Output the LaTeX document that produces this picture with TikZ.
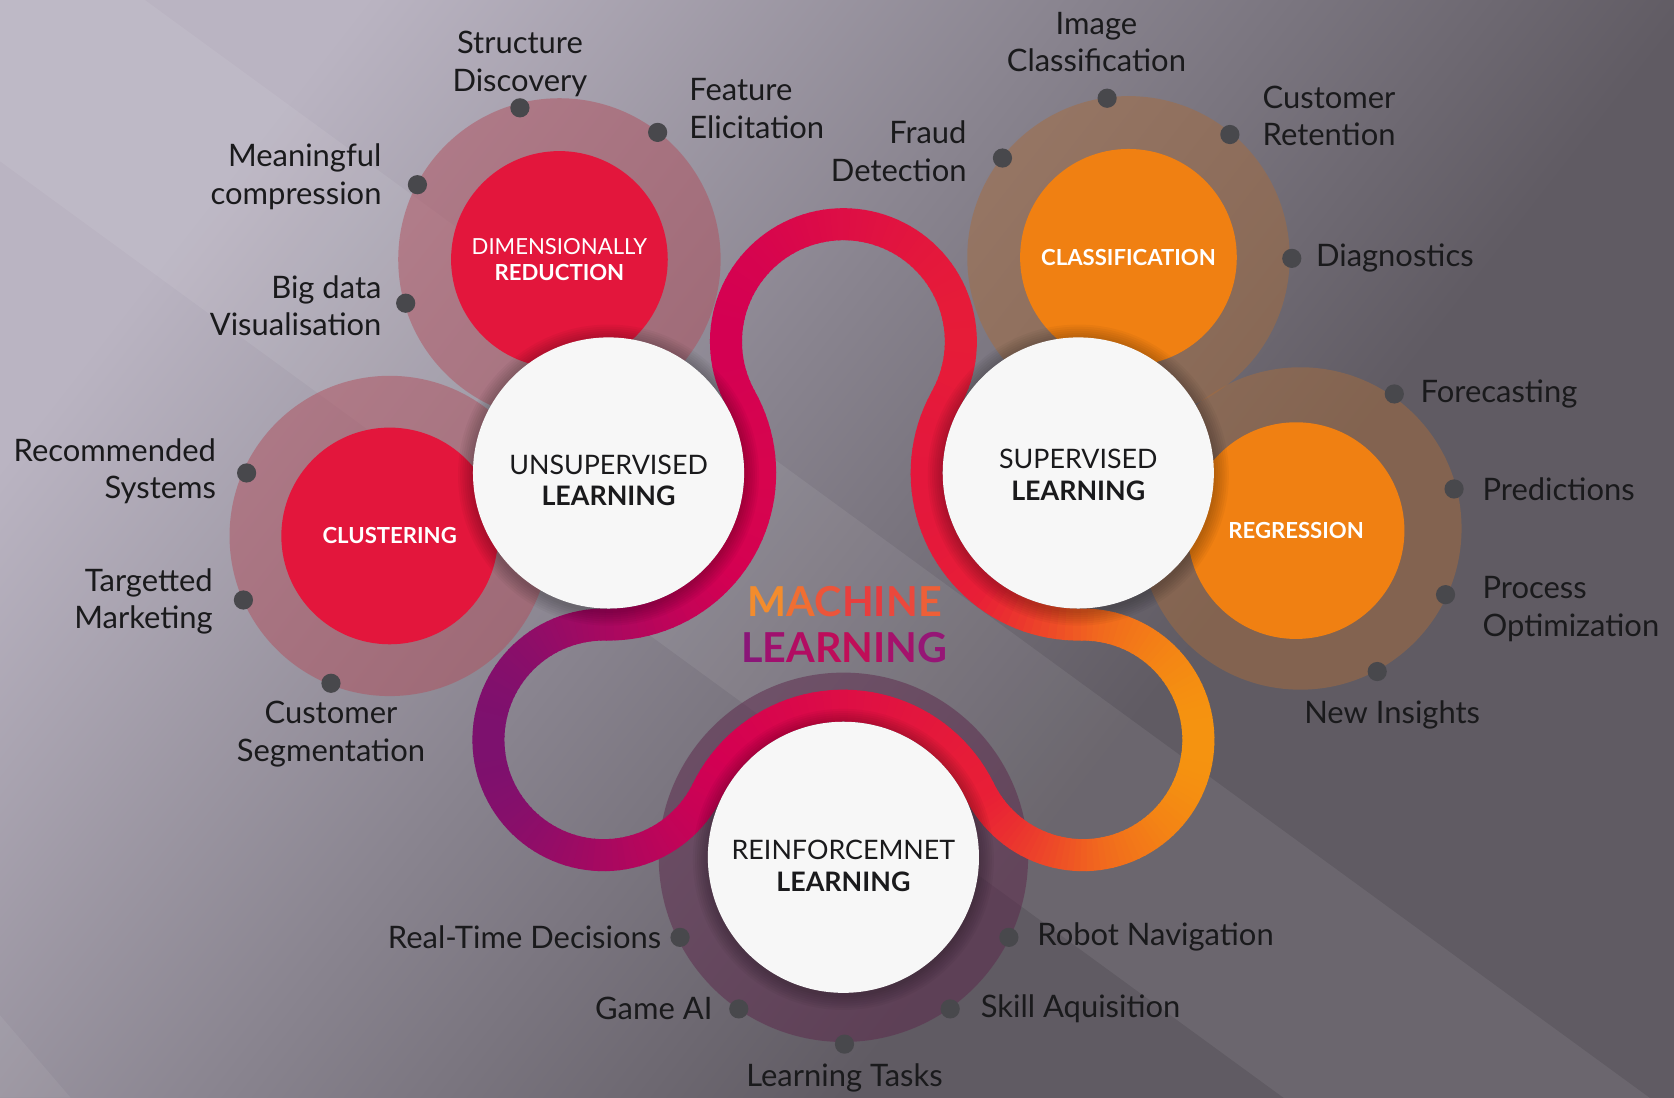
\documentclass[tikz,border=0pt]{standalone}
\usepackage{fontspec}
\setmainfont{Lato}
\usepackage{tikz}
\usetikzlibrary{positioning}

\definecolor{bglight}{RGB}{186,180,194}
\definecolor{bgmid}{RGB}{136,131,142}
\definecolor{bgdark}{RGB}{96,91,99}
\definecolor{mlred}{RGB}{227,22,60}
\definecolor{mlorange}{RGB}{240,128,18}
\definecolor{corewhite}{RGB}{247,247,247}
\definecolor{dotgray}{RGB}{72,72,76}
\definecolor{redhalo}{RGB}{176,78,92}
\definecolor{orangehalo}{RGB}{166,108,62}
\definecolor{purplehalo}{RGB}{92,38,74}
\definecolor{txt}{RGB}{26,26,28}
\definecolor{rb1}{RGB}{118,18,112}
\definecolor{rb3}{RGB}{212,0,82}
\definecolor{rb5}{RGB}{232,30,54}
\definecolor{rb7}{RGB}{241,104,30}
\definecolor{rb8}{RGB}{246,158,12}

\pgfdeclarehorizontalshading{backshade}{100bp}{color(0bp)=(bglight); color(25bp)=(bglight); color(45bp)=(bgmid); color(62bp)=(bgdark); color(100bp)=(bgdark)}

% colour of the band at horizontal position #1
\newcommand{\ribboncolor}[1]{%
  \ifdim#1pt<680pt
    \pgfmathsetmacro{\mixp}{max(0,(#1-440)/2.4)}\colorlet{segc}{rb3!\mixp!rb1}%
  \else\ifdim#1pt<920pt
    \pgfmathsetmacro{\mixp}{(#1-680)/2.4}\colorlet{segc}{rb5!\mixp!rb3}%
  \else\ifdim#1pt<1030pt
    \pgfmathsetmacro{\mixp}{(#1-920)/1.1}\colorlet{segc}{rb7!\mixp!rb5}%
  \else
    \pgfmathsetmacro{\mixp}{min(100,(#1-1030)/1.15)}\colorlet{segc}{rb8!\mixp!rb7}%
  \fi\fi\fi}

% one arc of the band: centre x, centre y, radius, start, end
\newcommand{\ribbonarc}[5]{%
  \pgfmathtruncatemacro{\nseg}{ceil(abs(#5-#4)/3)}%
  \pgfmathsetmacro{\dstep}{(#5-#4)/\nseg}%
  \foreach \i in {1,...,\nseg}{%
    \pgfmathsetmacro{\segA}{#4+(\i-1)*\dstep}%
    \pgfmathsetmacro{\segB}{#4+\i*\dstep+0.6*sign(\dstep)}%
    \pgfmathsetmacro{\xm}{#1+#3*cos(#4+(\i-0.5)*\dstep)}%
    \ribboncolor{\xm}%
    \draw[segc,line width=0.6cm] (#1,#2) ++(\segA:#3) arc[start angle=\segA,end angle=\segB,radius=#3];%
  }%
}

\begin{document}
\begin{tikzpicture}[x=0.02cm,y=-0.02cm,
  halo/.style={opacity=0.5},
  topic node/.style={circle,minimum size=4.06cm,inner sep=0,align=center,text=white,font=\fontsize{11.8}{13.7}\selectfont},
  core node/.style={circle,fill=corewhite,minimum size=5.08cm,inner sep=0},
  core text/.style={align=center,inner sep=0,text=txt,font=\fontsize{14.3}{17}\selectfont},
  dot node/.style={circle,fill=dotgray,minimum size=0.36cm,inner sep=0},
  item node/.style={inner sep=0,text=txt,font=\fontsize{16.5}{20}\selectfont}]
\useasboundingbox (0,0) rectangle (1568,1028);

% background
\begin{scope}
\clip (0,0) rectangle (1568,1028);
\shade[shading=backshade,shading angle=-38] (0,0) rectangle (1568,1028);
\fill[white,opacity=0.07] (0,-99) -- (1568,1045) -- (1568,1295) -- (0,151) -- cycle;
\fill[white,opacity=0.06] (0,951) -- (66,1028) -- (0,1028) -- cycle;
\end{scope}

% halos
\fill[redhalo,halo] (524,243) circle[radius=151];
\fill[redhalo,halo] (365,502) circle[radius=150];
\fill[orangehalo,halo] (1057,241) circle[radius=151];
\fill[orangehalo,halo] (1218,495) circle[radius=151];
\fill[purplehalo,halo] (790,803) circle[radius=173];

% band round the learning circles
\ribbonarc{790}{320}{110}{150.8}{389.2}
\ribbonarc{1010}{443}{142}{209.2}{89.0}
\ribbonarc{1014.5}{693}{108}{269.0}{513.9}
\ribbonarc{790}{803}{142}{-26.1}{-153.9}
\ribbonarc{565.5}{693}{108}{26.1}{271.0}
\ribbonarc{570}{443}{142}{91.0}{-29.2}

% topic circles
\node[topic node,fill=mlred] (dimred) at (524,243) {DIMENSIONALLY\\\textbf{REDUCTION}};
\node[topic node,fill=mlred] (clust) at (365,502) {\textbf{CLUSTERING}};
\node[topic node,fill=mlorange] (classif) at (1057,241) {\textbf{CLASSIFICATION}};
\node[topic node,fill=mlorange] (regr) at (1214,497) {\textbf{REGRESSION}};

% learning circles
\coordinate (uc) at (570,443);
\coordinate (sc) at (1010,443);
\coordinate (rc) at (790,803);
\foreach \p in {uc,sc,rc}
  \foreach \k in {1,...,7}
    \fill[black,opacity=0.035] ([yshift=-0.04cm]\p) circle[radius=127+2*\k];
\node[core node] (unsup) at (uc) {};
\node[core node] (sup) at (sc) {};
\node[core node] (reinf) at (rc) {};
\node[core text] (unsup-t) at ([yshift=-0.14cm]unsup.center) {UNSUPERVISED\\\textbf{LEARNING}};
\node[core text] (sup-t) at ([yshift=-0.04cm]sup.center) {SUPERVISED\\\textbf{LEARNING}};
\node[core text] (reinf-t) at ([yshift=-0.16cm]reinf.center) {REINFORCEMNET\\\textbf{LEARNING}};

\node[align=center,inner sep=0,font=\fontsize{22}{25}\selectfont\bfseries] (ml) at (791,585)
  {\textcolor[RGB]{243,140,45}{M}\textcolor[RGB]{240,110,50}{A}\textcolor[RGB]{236,85,58}{C}\textcolor[RGB]{232,62,62}{H}\textcolor[RGB]{232,58,62}{I}\textcolor[RGB]{235,72,60}{N}\textcolor[RGB]{238,95,55}{E}\\
   \textcolor[RGB]{138,22,120}{L}\textcolor[RGB]{160,16,110}{E}\textcolor[RGB]{178,12,98}{A}\textcolor[RGB]{190,12,90}{R}\textcolor[RGB]{192,14,88}{N}\textcolor[RGB]{182,14,96}{I}\textcolor[RGB]{165,18,108}{N}\textcolor[RGB]{150,22,118}{G}};

% dimensionality reduction
\node[dot node] (sd) at (487,101) {};
\node[dot node] (fe) at (616,124) {};
\node[dot node] (mc) at (391,173) {};
\node[dot node] (bd) at (380,284) {};
\node[item node,above=0.02cm of sd,align=center] (sd-l) {Structure\\Discovery};
\node[item node,right=0.4cm of fe,yshift=0.45cm,align=left] (fe-l) {Feature\\Elicitation};
\node[item node,left=0.48cm of mc,yshift=0.15cm,align=right] (mc-l) {Meaningful\\compression};
\node[item node,left=0.26cm of bd,yshift=-0.05cm,align=right] (bd-l) {Big data\\Visualisation};

% clustering
\node[dot node] (rs) at (231,443) {};
\node[dot node] (tm) at (228,562) {};
\node[dot node] (cs) at (310,640) {};
\node[item node,left=0.38cm of rs,yshift=0.03cm,align=right] (rs-l) {Recommended\\Systems};
\node[item node,left=0.38cm of tm,yshift=-0.03cm,align=right] (tm-l) {Targetted\\Marketing};
\node[item node,below=0.14cm of cs,align=center] (cs-l) {Customer\\Segmentation};

% classification
\node[dot node] (ic) at (1037,92) {};
\node[dot node] (cr) at (1152,126) {};
\node[dot node] (fd) at (939,148) {};
\node[dot node] (dg) at (1210,242) {};
\node[item node,above=0.3cm of ic,xshift=-0.2cm,align=center] (ic-l) {Image\\Classification};
\node[item node,right=0.42cm of cr,yshift=0.35cm,align=left] (cr-l) {Customer\\Retention};
\node[item node,left=0.48cm of fd,yshift=0.13cm,align=right] (fd-l) {Fraud\\Detection};
\node[item node,right=0.26cm of dg] (dg-l) {Diagnostics};

% regression
\node[dot node] (fc) at (1306,369) {};
\node[dot node] (pr) at (1362,458) {};
\node[dot node] (po) at (1354,557) {};
\node[dot node] (ni) at (1290,629) {};
\node[item node,right=0.3cm of fc] (fc-l) {Forecasting};
\node[item node,right=0.34cm of pr] (pr-l) {Predictions};
\node[item node,right=0.5cm of po,yshift=-0.27cm,align=left] (po-l) {Process\\Optimization};
\node[item node,below=0.36cm of ni,xshift=0.28cm] (ni-l) {New Insights};

% reinforcement
\node[dot node] (rt) at (637,878) {};
\node[dot node] (ga) at (692,945) {};
\node[dot node] (lt) at (791,978) {};
\node[dot node] (sa) at (890,945) {};
\node[dot node] (rn) at (945,878) {};
\node[item node,left=0.16cm of rt] (rt-l) {Real-Time Decisions};
\node[item node,left=0.3cm of ga] (ga-l) {Game AI};
\node[item node,below=0.18cm of lt] (lt-l) {Learning Tasks};
\node[item node,right=0.38cm of sa] (sa-l) {Skill Aquisition};
\node[item node,right=0.34cm of rn] (rn-l) {Robot Navigation};
\end{tikzpicture}
\end{document}
